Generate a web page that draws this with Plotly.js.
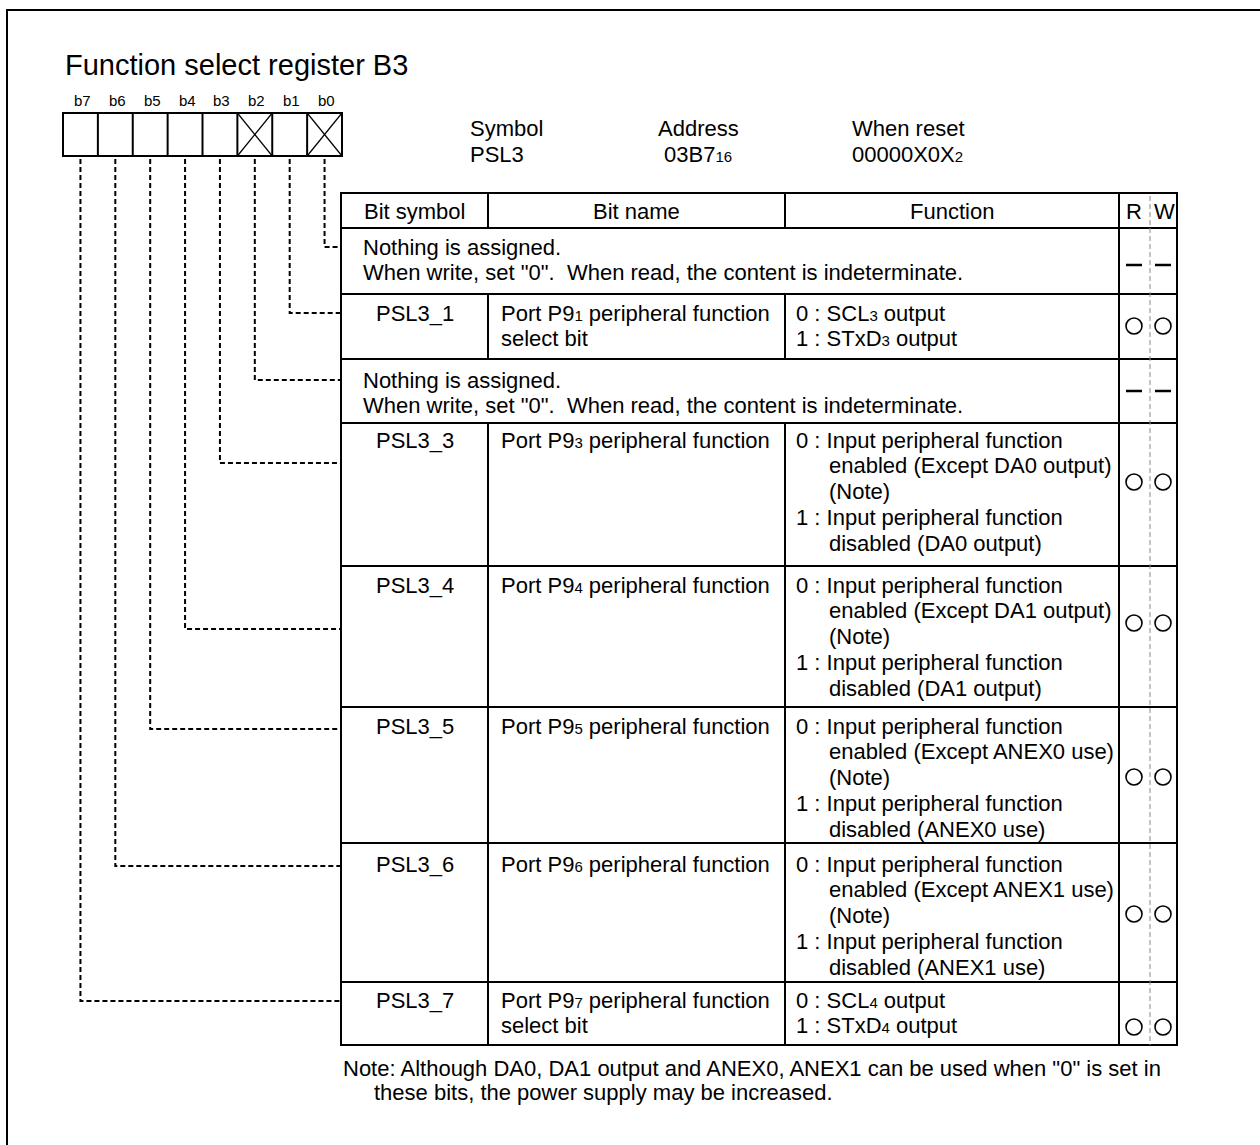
<!DOCTYPE html>
<html>
<head>
<meta charset="utf-8">
<script src="https://cdn.plot.ly/plotly-3.0.1.min.js"></script>
<style>html,body{margin:0;padding:0;background:#fff;}</style>
</head>
<body>
<div id="chart" style="width:1260px;height:1145px;"></div>
<script>
// ---------- data ----------
const titleText = 'Function select register B3';
const bitLabels = ['b7', 'b6', 'b5', 'b4', 'b3', 'b2', 'b1', 'b0'];
const bitReserved = [false, false, false, false, false, true, false, true];
const infoHeads = ['Symbol', 'Address', 'When reset'];
const infoValues = ['PSL3', '03B7{16}', '00000X0X{2}'];
const headerCols = ['Bit symbol', 'Bit name', 'Function'];
const rwHeads = ['R', 'W'];
// table rows, from top to bottom (b0 ... b7)
const rowBits = ['b0', 'b1', 'b2', 'b3', 'b4', 'b5', 'b6', 'b7'];
const nothingLines = ['Nothing is assigned.', 'When write, set "0".\u00a0 When read, the content is indeterminate.'];
const bitSymbols = ['', 'PSL3_1', '', 'PSL3_3', 'PSL3_4', 'PSL3_5', 'PSL3_6', 'PSL3_7'];
const bitNames = [
  [],
  ['Port P9{1} peripheral function', 'select bit'],
  [],
  ['Port P9{3} peripheral function'],
  ['Port P9{4} peripheral function'],
  ['Port P9{5} peripheral function'],
  ['Port P9{6} peripheral function'],
  ['Port P9{7} peripheral function', 'select bit']
];
const functionLines = [
  [],
  ['0 : SCL{3} output', '1 : STxD{3} output'],
  [],
  ['0 : Input peripheral function', '  enabled (Except DA0 output)', '  (Note)', '1 : Input peripheral function', '  disabled (DA0 output)'],
  ['0 : Input peripheral function', '  enabled (Except DA1 output)', '  (Note)', '1 : Input peripheral function', '  disabled (DA1 output)'],
  ['0 : Input peripheral function', '  enabled (Except ANEX0 use)', '  (Note)', '1 : Input peripheral function', '  disabled (ANEX0 use)'],
  ['0 : Input peripheral function', '  enabled (Except ANEX1 use)', '  (Note)', '1 : Input peripheral function', '  disabled (ANEX1 use)'],
  ['0 : SCL{4} output', '1 : STxD{4} output']
];
const rwMarks = ['—', '○', '—', '○', '○', '○', '○', '○'];
const noteLines = ['Note: Although DA0, DA1 output and ANEX0, ANEX1 can be used when "0" is set in', 'these bits, the power supply may be increased.'];

// ---------- layout geometry ----------
const FONT = 'Liberation Sans, Arial, Helvetica, sans-serif';
const FS = 22;
const boxX0 = 63, boxX1 = 342, boxY0 = 113, boxY1 = 156;
const tblX = [341, 488, 785, 1119, 1177];
const tblTop = 193, hdrBot = 228;
const rowTops = [228, 294, 359, 423, 566, 707, 843, 982];
const tblBot = 1045;
const rowTextY = [247, 313, 380, 440, 585, 726, 864, 1000];
const lineStep = 25.8;
const connY = [247, 313, 380, 463, 629, 729, 866, 1001];
const markY = [265, 326, 391, 482, 623, 777, 914, 1027];
const rwX = [1134, 1163];
const rwDivX = 1150;

function fmt(s) {
  return s.replace(/\{([^}]*)\}/g, '<span style="font-size:15px">$1</span>');
}

const shapes = [];
const ann = [];
const blk = '#000';
function line(x0, y0, x1, y1, w, dash, color) {
  shapes.push({type: 'line', xref: 'x', yref: 'y', x0, y0, x1, y1,
    line: {color: color || blk, width: w || 2, dash: dash || 'solid'}});
}
function text(t, x, y, opts) {
  opts = opts || {};
  ann.push({xref: 'x', yref: 'y', x, y, text: fmt(t), showarrow: false,
    xanchor: opts.xa || 'left', yanchor: 'middle',
    font: {family: FONT, size: opts.size || FS, color: blk}});
}

// outer frame
shapes.push({type: 'rect', xref: 'x', yref: 'y', x0: 7, y0: 10, x1: 1280, y1: 1170,
  line: {color: blk, width: 2}});

// title
text(titleText, 63, 65, {size: 29});

// bit boxes
const bw = (boxX1 - boxX0) / bitLabels.length;
shapes.push({type: 'rect', xref: 'x', yref: 'y', x0: boxX0, y0: boxY0, x1: boxX1, y1: boxY1,
  line: {color: blk, width: 2}});
bitLabels.forEach((b, i) => {
  const x0 = boxX0 + i * bw;
  if (i > 0) line(x0, boxY0, x0, boxY1, 2);
  if (bitReserved[i]) {
    line(x0, boxY0, x0 + bw, boxY1, 1.2);
    line(x0, boxY1, x0 + bw, boxY0, 1.2);
  }
  text(b, x0 + bw / 2 + 2, 100, {size: 15, xa: 'center'});
});

// connectors
rowBits.forEach((b, r) => {
  const i = bitLabels.indexOf(b);
  const cx = boxX0 + (i + 0.5) * bw;
  shapes.push({type: 'path', xref: 'x', yref: 'y',
    path: `M ${cx},${boxY1 + 3} L ${cx},${connY[r]} L ${tblX[0]},${connY[r]}`,
    line: {color: blk, width: 2, dash: '5px,3px'}});
});

// info header
text(infoHeads[0], 468, 128);
text(infoValues[0], 468, 154);
text(infoHeads[1], 698, 128, {xa: 'center'});
text(infoValues[1], 698, 154, {xa: 'center'});
text(infoHeads[2], 850, 128);
text(infoValues[2], 850, 154);

// table frame
shapes.push({type: 'rect', xref: 'x', yref: 'y', x0: tblX[0], y0: tblTop, x1: tblX[4], y1: tblBot,
  line: {color: blk, width: 2}});
rowTops.forEach(y => line(tblX[0], y, tblX[4], y, 2));
line(tblX[3], tblTop, tblX[3], tblBot, 2);
// inner column lines, skipping merged rows
[tblX[1], tblX[2]].forEach(x => {
  line(x, tblTop, x, hdrBot, 2);
  rowTops.forEach((t, r) => {
    if (bitSymbols[r] === '') return;
    const bot = r + 1 < rowTops.length ? rowTops[r + 1] : tblBot;
    line(x, t, x, bot, 2);
  });
});
// R/W dashed divider
line(rwDivX, tblTop + 3, rwDivX, tblBot, 1, '5px,3px', '#888');

// header texts
headerCols.forEach((h, c) => text(h, (tblX[c] + tblX[c + 1]) / 2, 211, {xa: 'center'}));
text(rwHeads[0], rwX[0], 211, {xa: 'center'});
text(rwHeads[1], rwX[1] + 1, 211, {xa: 'center'});

// rows
const markX = [], markYs = [];
rowBits.forEach((b, r) => {
  const y0 = rowTextY[r];
  if (bitSymbols[r] === '') {
    nothingLines.forEach((t, k) => text(t, 361, y0 + k * 25));
  } else {
    text(bitSymbols[r], (tblX[0] + tblX[1]) / 2, y0, {xa: 'center'});
    bitNames[r].forEach((t, k) => text(t, 499, y0 + k * lineStep));
    functionLines[r].forEach((t, k) => {
      const indent = t.startsWith('  ');
      text(t.trim(), indent ? 827 : 794, y0 + k * lineStep);
    });
  }
  if (rwMarks[r] === '—') {
    line(rwX[0] - 8, markY[r], rwX[0] + 8, markY[r], 2.5);
    line(rwX[1] - 8, markY[r], rwX[1] + 8, markY[r], 2.5);
  } else {
    markX.push(rwX[0], rwX[1]);
    markYs.push(markY[r], markY[r]);
  }
});

// note
text(noteLines[0], 341, 1068);
text(noteLines[1], 372, 1092);

const trace = {
  type: 'scatter', mode: 'markers', x: markX, y: markYs, hoverinfo: 'skip',
  marker: {symbol: 'circle-open', size: 16, color: blk, line: {width: 1.6, color: blk}}
};

const layout = {
  width: 1260, height: 1145,
  margin: {l: 0, r: 0, t: 0, b: 0, pad: 0},
  paper_bgcolor: '#fff', plot_bgcolor: '#fff',
  showlegend: false,
  xaxis: {range: [0, 1260], visible: false, fixedrange: true},
  yaxis: {range: [1145, 0], visible: false, fixedrange: true},
  shapes: shapes,
  annotations: ann
};
Plotly.newPlot('chart', [trace], layout, {displayModeBar: false, staticPlot: true});
</script>
</body>
</html>
